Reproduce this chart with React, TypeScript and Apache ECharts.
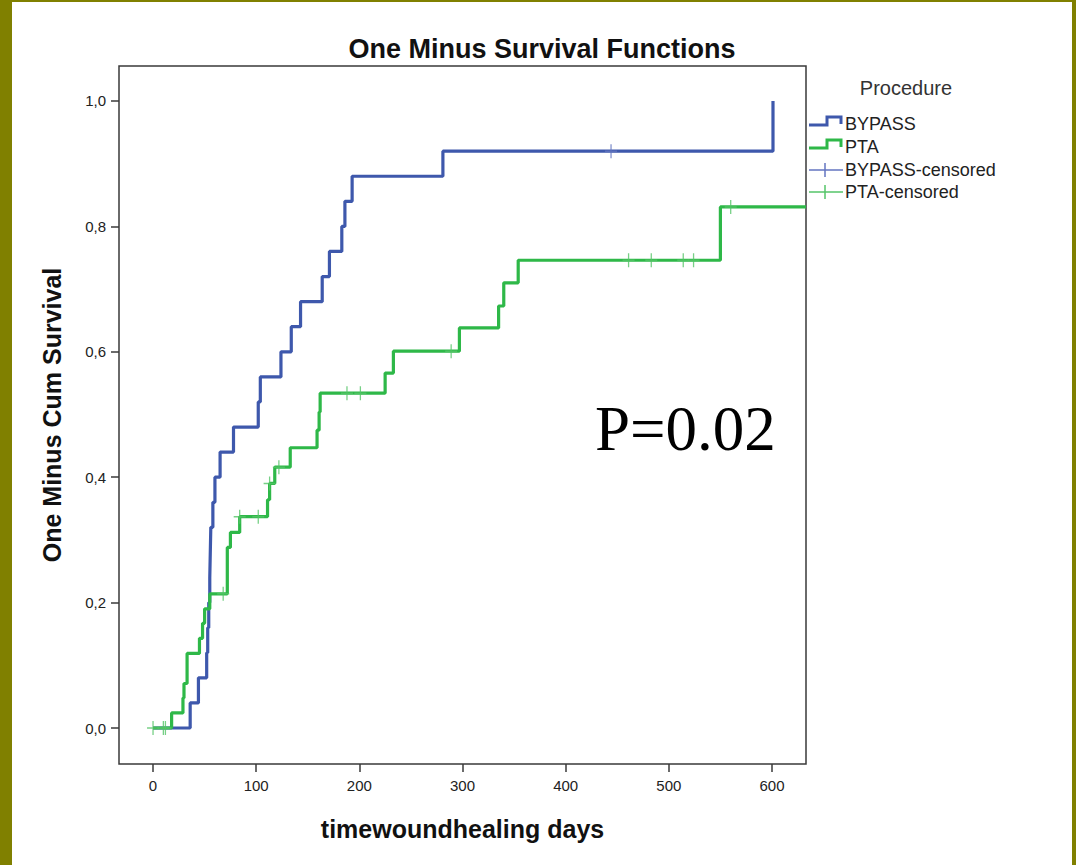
import React, { useEffect, useRef } from "react";
import * as echarts from "echarts";

// ---- Data ----
const bypassDays = [0, 36, 44, 52, 53, 54, 55, 55.5, 56, 58, 60, 65, 78, 102, 104, 124, 134, 143, 164, 171, 183, 186, 193, 281, 601];
const bypassOneMinusSurv = [0, 0.04, 0.08, 0.12, 0.16, 0.2, 0.24, 0.28, 0.32, 0.36, 0.4, 0.44, 0.48, 0.52, 0.56, 0.6, 0.64, 0.68, 0.72, 0.76, 0.8, 0.84, 0.88, 0.92, 1.0];
const bypassCensoredDays = [444];
const bypassCensoredValues = [0.92];

const ptaDays = [0, 18, 29, 30, 33, 45, 48, 50, 55, 72, 75, 84, 111, 113, 118, 133, 159, 161, 162, 225, 233, 297, 335, 340, 354, 550, 633];
const ptaOneMinusSurv = [0, 0.024, 0.048, 0.071, 0.119, 0.143, 0.167, 0.19, 0.214, 0.288, 0.312, 0.337, 0.364, 0.39, 0.416, 0.447, 0.475, 0.504, 0.534, 0.566, 0.601, 0.638, 0.673, 0.71, 0.746, 0.831, 0.831];
const ptaCensoredDays = [0, 10, 12, 68, 84, 102, 113, 122, 188, 201, 289, 461, 483, 514, 524, 560];
const ptaCensoredValues = [0, 0, 0, 0.214, 0.337, 0.337, 0.39, 0.416, 0.534, 0.534, 0.601, 0.746, 0.746, 0.746, 0.746, 0.831];

const xTicks = [0, 100, 200, 300, 400, 500, 600];
const yTicks = [0, 0.2, 0.4, 0.6, 0.8, 1.0];

const legendItems = ["BYPASS", "PTA", "BYPASS-censored", "PTA-censored"];

const BLUE = "#3E58AC";
const GREEN = "#2EB848";
const BLUE_C = "#6375c0";
const GREEN_C = "#55c468";
const SANS = "'Liberation Sans', Arial, sans-serif";

const PLUS = "path://M6.25,0H7.75V6.25H14V7.75H7.75V14H6.25V7.75H0V6.25H6.25Z";

const zip = (a: number[], b: number[]) => a.map((v, i) => [v, b[i]]);

export default function App() {
  const ref = useRef<HTMLDivElement>(null);
  useEffect(() => {
    if (!ref.current) return;
    const chart = echarts.init(ref.current, null, { renderer: "svg" });
    const legendY = [124, 147, 170, 192];
    const legendGraphics: any[] = [
      {
        type: "text",
        style: { x: 906, y: 88, text: "Procedure", font: `20px ${SANS}`, fill: "#333", align: "center", verticalAlign: "middle" },
      },
      {
        type: "polyline",
        shape: { points: [[809, 125], [827, 125], [827, 117], [841, 117], [841, 124]] },
        style: { stroke: BLUE, lineWidth: 3, fill: "none" },
      },
      {
        type: "polyline",
        shape: { points: [[809, 148], [827, 148], [827, 140], [841, 140], [841, 147]] },
        style: { stroke: GREEN, lineWidth: 3, fill: "none" },
      },
      { type: "line", shape: { x1: 809, y1: 170, x2: 843, y2: 170 }, style: { stroke: BLUE_C, lineWidth: 1.5 } },
      { type: "line", shape: { x1: 825, y1: 163, x2: 825, y2: 177 }, style: { stroke: BLUE_C, lineWidth: 1.5 } },
      { type: "line", shape: { x1: 809, y1: 192, x2: 843, y2: 192 }, style: { stroke: GREEN_C, lineWidth: 1.5 } },
      { type: "line", shape: { x1: 825, y1: 185, x2: 825, y2: 199 }, style: { stroke: GREEN_C, lineWidth: 1.5 } },
      ...legendItems.map((t, i) => ({
        type: "text",
        style: { x: 845, y: legendY[i], text: t, font: `18px ${SANS}`, fill: "#222", align: "left", verticalAlign: "middle" },
      })),
    ];

    chart.setOption({
      animation: false,
      backgroundColor: "#ffffff",
      title: {
        text: "One Minus Survival Functions",
        left: 537,
        top: 30,
        textAlign: "center",
        textStyle: { fontFamily: SANS, fontSize: 27, fontWeight: "bold", color: "#111" },
      },
      grid: {
        left: 119,
        top: 66,
        width: 687,
        height: 698,
        show: true,
        borderColor: "#3a3a3a",
        borderWidth: 1.5,
        backgroundColor: "transparent",
      },
      xAxis: {
        type: "value",
        min: -33,
        max: 633,
        name: "timewoundhealing days",
        nameLocation: "middle",
        nameGap: 52,
        nameTextStyle: { fontFamily: SANS, fontSize: 25, fontWeight: "bold", color: "#111" },
        axisLine: { show: false, onZero: false },
        splitLine: { show: false },
        axisTick: { show: true, inside: false, length: 8, customValues: xTicks, lineStyle: { color: "#3a3a3a", width: 1.5 } },
        axisLabel: { customValues: xTicks, margin: 14, fontFamily: SANS, fontSize: 15, color: "#222" },
      },
      yAxis: {
        type: "value",
        min: -0.0574,
        max: 1.0558,
        name: "One Minus Cum Survival",
        nameLocation: "middle",
        nameGap: 55,
        nameTextStyle: { fontFamily: SANS, fontSize: 25, fontWeight: "bold", color: "#111" },
        axisLine: { show: false, onZero: false },
        splitLine: { show: false },
        axisTick: { show: true, inside: false, length: 8, customValues: yTicks, lineStyle: { color: "#3a3a3a", width: 1.5 } },
        axisLabel: {
          customValues: yTicks,
          margin: 13,
          fontFamily: SANS,
          fontSize: 15,
          color: "#222",
          formatter: (v: number) => v.toFixed(1).replace(".", ","),
        },
      },
      series: [
        {
          name: "BYPASS",
          type: "line",
          step: "end",
          showSymbol: false,
          data: zip(bypassDays, bypassOneMinusSurv),
          lineStyle: { color: BLUE, width: 3.2 },
          itemStyle: { color: BLUE },
          z: 3,
        },
        {
          name: "PTA",
          type: "line",
          step: "end",
          showSymbol: false,
          data: zip(ptaDays, ptaOneMinusSurv),
          lineStyle: { color: GREEN, width: 3.2 },
          itemStyle: { color: GREEN },
          z: 4,
        },
        {
          name: "BYPASS-censored",
          type: "scatter",
          symbol: PLUS,
          symbolSize: [12, 14],
          data: zip(bypassCensoredDays, bypassCensoredValues),
          itemStyle: { color: BLUE_C },
          z: 5,
        },
        {
          name: "PTA-censored",
          type: "scatter",
          symbol: PLUS,
          symbolSize: [12, 14],
          data: zip(ptaCensoredDays, ptaCensoredValues),
          itemStyle: { color: GREEN_C },
          z: 6,
        },
      ],
      graphic: [
        { type: "rect", shape: { x: 0, y: 0, width: 12, height: 865 }, style: { fill: "#808000" }, z: 100 },
        { type: "rect", shape: { x: 0, y: 0, width: 1076, height: 2 }, style: { fill: "#808000" }, z: 100 },
        { type: "rect", shape: { x: 1072, y: 0, width: 4, height: 865 }, style: { fill: "#808000" }, z: 100 },
        {
          type: "text",
          style: { x: 595, y: 429, text: "P=0.02", font: `63px 'Liberation Serif', 'Times New Roman', serif`, fill: "#000", align: "left", verticalAlign: "middle" },
        },
        ...legendGraphics,
      ],
    });
    return () => chart.dispose();
  }, []);
  return <div ref={ref} style={{ position: "absolute", left: 0, top: 0, width: 1076, height: 865, background: "#fff" }} />;
}
